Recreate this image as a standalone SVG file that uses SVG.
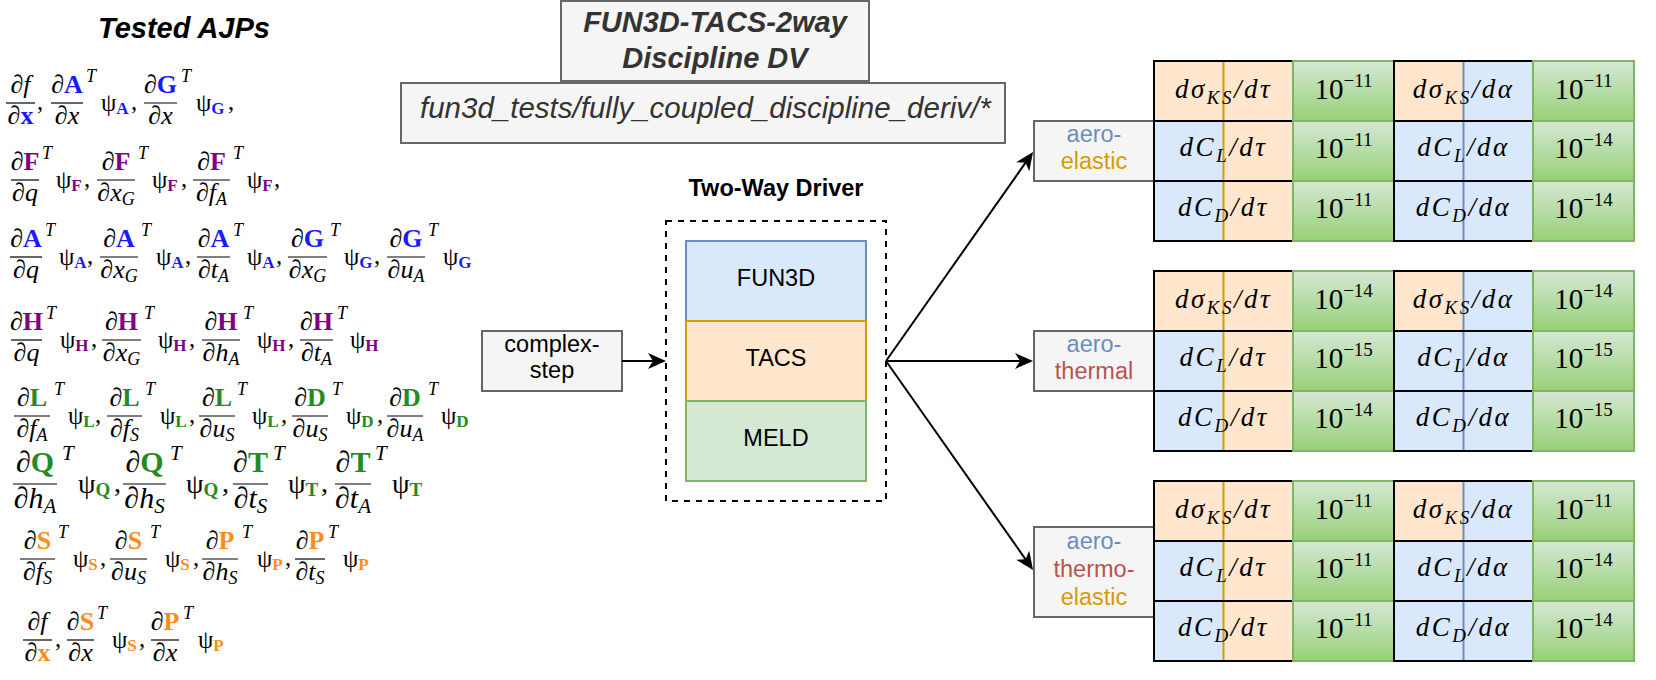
<svg xmlns="http://www.w3.org/2000/svg" xmlns:xlink="http://www.w3.org/1999/xlink" width="1656" height="680" viewBox="0 0 1656 680">
<style>
.n{font-family:"Liberation Serif","Times New Roman",serif;font-size:26px;font-style:italic;text-anchor:middle;fill:#000}
.t{font-family:"Liberation Serif","Times New Roman",serif;font-size:18px;font-style:italic;fill:#000}
.p{font-family:"Liberation Serif","Times New Roman",serif;font-size:24.5px;fill:#000}
.B{font-style:normal;font-weight:bold}
.s{font-size:17px;font-weight:bold}
.sd{font-size:18px}
.big .n{font-size:30px}
.big .p{font-size:28px}
.big .t,.big .sd{font-size:21px}
.big .s{font-size:19px}
.bar{stroke:#000;stroke-width:1.2}
.cb{fill:#1a1aff}.cp{fill:#800080}.cg{fill:#228b22}.co{fill:#ff8c1a}
.box{fill:#f5f5f5;stroke:#666666;stroke-width:2}
.sans{font-family:"Liberation Sans",Arial,sans-serif;font-size:23.5px;text-anchor:middle;fill:#000}
.ttl{font-family:"Liberation Sans",Arial,sans-serif;font-size:29px;font-weight:bold;font-style:italic;fill:#333333;text-anchor:middle}
.path{font-family:"Liberation Sans",Arial,sans-serif;font-size:29.5px;font-style:italic;fill:#333333}
.cellK{fill:none;stroke:#000;stroke-width:2}
.cellG{fill:url(#gg);stroke:#82b366;stroke-width:2}
.mx{font-family:"Liberation Serif","Times New Roman",serif;font-size:27px;font-style:italic;letter-spacing:2.5px;text-anchor:middle;fill:#000}
.ms{font-size:19px}
.mn{font-family:"Liberation Serif","Times New Roman",serif;font-size:29px;text-anchor:middle;fill:#000}
.mns{font-size:19px}
.conn{fill:none;stroke:#000;stroke-width:2}
</style>
<defs>
<linearGradient id="gg" x1="0" y1="0" x2="0" y2="1">
<stop offset="0" stop-color="#d5e8d4"/>
<stop offset="1" stop-color="#97d077"/>
</linearGradient>
<marker id="arr" viewBox="-30 -10 32 20" refX="-10" refY="0" markerWidth="32" markerHeight="20" markerUnits="userSpaceOnUse" orient="auto">
<path d="M0,0 L-18,-8 L-13,0 L-18,8 Z" fill="#000"/>
</marker>
<g id="tblBg">
<rect x="1154" y="0" width="139" height="60" fill="#ffe6cc"/>
<rect x="1154" y="60" width="69.5" height="120" fill="#dae8fc"/>
<rect x="1223.5" y="60" width="69.5" height="120" fill="#ffe6cc"/>
<line x1="1223.5" y1="0" x2="1223.5" y2="180" stroke="#d79b00" stroke-width="2"/>
<rect class="cellK" x="1154" y="0" width="139" height="60"/>
<rect class="cellK" x="1154" y="60" width="139" height="60"/>
<rect class="cellK" x="1154" y="120" width="139" height="60"/>
<rect class="cellG" x="1293" y="0" width="101" height="60"/>
<rect class="cellG" x="1293" y="60" width="101" height="60"/>
<rect class="cellG" x="1293" y="120" width="101" height="60"/>
<rect x="1394" y="0" width="69.5" height="60" fill="#ffe6cc"/>
<rect x="1463.5" y="0" width="69.5" height="60" fill="#dae8fc"/>
<rect x="1394" y="60" width="139" height="120" fill="#dae8fc"/>
<line x1="1463.5" y1="0" x2="1463.5" y2="180" stroke="#6c8ebf" stroke-width="2"/>
<rect class="cellK" x="1394" y="0" width="139" height="60"/>
<rect class="cellK" x="1394" y="60" width="139" height="60"/>
<rect class="cellK" x="1394" y="120" width="139" height="60"/>
<rect class="cellG" x="1533" y="0" width="101" height="60"/>
<rect class="cellG" x="1533" y="60" width="101" height="60"/>
<rect class="cellG" x="1533" y="120" width="101" height="60"/>
</g>
</defs>
<rect width="1656" height="680" fill="#ffffff"/>

<g id="ajp-title"><text x="184" y="38" style="font-family:'Liberation Sans',Arial,sans-serif;font-size:29px;font-weight:bold;font-style:italic;text-anchor:middle">Tested AJPs</text></g>

<g id="ajp-formulas">
<g id="ajp-row1">
<line class="bar" x1="6" y1="103" x2="35" y2="103"/>
<text class="n" x="20.5" y="93">∂f</text>
<text class="n" x="20.5" y="124">∂<tspan class="B cb">x</tspan></text>
<text class="p" x="37" y="110">,</text>
<line class="bar" x1="51" y1="103" x2="83" y2="103"/>
<text class="n" x="67" y="93">∂<tspan class="B cb">A</tspan></text>
<text class="n" x="67" y="124">∂x</text>
<text class="t" x="86" y="82">T</text>
<text class="p" x="101" y="111">ψ<tspan class="s cb" dy="3">A</tspan></text>
<text class="p" x="131" y="110">,</text>
<line class="bar" x1="144" y1="103" x2="177" y2="103"/>
<text class="n" x="160.5" y="93">∂<tspan class="B cb">G</tspan></text>
<text class="n" x="160.5" y="124">∂x</text>
<text class="t" x="181" y="82">T</text>
<text class="p" x="196" y="111">ψ<tspan class="s cb" dy="3">G</tspan></text>
<text class="p" x="228" y="110">,</text>
</g>
<g id="ajp-row2">
<line class="bar" x1="11" y1="180" x2="39" y2="180"/>
<text class="n" x="25" y="170">∂<tspan class="B cp">F</tspan></text>
<text class="n" x="25" y="201">∂q</text>
<text class="t" x="42" y="159">T</text>
<text class="p" x="56" y="188">ψ<tspan class="s cp" dy="3">F</tspan></text>
<text class="p" x="84" y="187">,</text>
<line class="bar" x1="97" y1="180" x2="135" y2="180"/>
<text class="n" x="116" y="170">∂<tspan class="B cp">F</tspan></text>
<text class="n" x="116" y="201">∂x<tspan class="sd" dy="4">G</tspan></text>
<text class="t" x="138" y="159">T</text>
<text class="p" x="152" y="188">ψ<tspan class="s cp" dy="3">F</tspan></text>
<text class="p" x="181" y="187">,</text>
<line class="bar" x1="193" y1="180" x2="230" y2="180"/>
<text class="n" x="211.5" y="170">∂<tspan class="B cp">F</tspan></text>
<text class="n" x="211.5" y="201">∂f<tspan class="sd" dy="4">A</tspan></text>
<text class="t" x="233" y="159">T</text>
<text class="p" x="247" y="188">ψ<tspan class="s cp" dy="3">F</tspan></text>
<text class="p" x="274" y="187">,</text>
</g>
<g id="ajp-row3">
<line class="bar" x1="10" y1="257" x2="42" y2="257"/>
<text class="n" x="26" y="247">∂<tspan class="B cb">A</tspan></text>
<text class="n" x="26" y="278">∂q</text>
<text class="t" x="45" y="236">T</text>
<text class="p" x="59" y="265">ψ<tspan class="s cb" dy="3">A</tspan></text>
<text class="p" x="87" y="264">,</text>
<line class="bar" x1="100" y1="257" x2="138" y2="257"/>
<text class="n" x="119" y="247">∂<tspan class="B cb">A</tspan></text>
<text class="n" x="119" y="278">∂x<tspan class="sd" dy="4">G</tspan></text>
<text class="t" x="141" y="236">T</text>
<text class="p" x="156" y="265">ψ<tspan class="s cb" dy="3">A</tspan></text>
<text class="p" x="185" y="264">,</text>
<line class="bar" x1="197" y1="257" x2="230" y2="257"/>
<text class="n" x="213.5" y="247">∂<tspan class="B cb">A</tspan></text>
<text class="n" x="213.5" y="278">∂t<tspan class="sd" dy="4">A</tspan></text>
<text class="t" x="233" y="236">T</text>
<text class="p" x="247" y="265">ψ<tspan class="s cb" dy="3">A</tspan></text>
<text class="p" x="276" y="264">,</text>
<line class="bar" x1="288" y1="257" x2="327" y2="257"/>
<text class="n" x="307.5" y="247">∂<tspan class="B cb">G</tspan></text>
<text class="n" x="307.5" y="278">∂x<tspan class="sd" dy="4">G</tspan></text>
<text class="t" x="330" y="236">T</text>
<text class="p" x="344" y="265">ψ<tspan class="s cb" dy="3">G</tspan></text>
<text class="p" x="374" y="264">,</text>
<line class="bar" x1="387" y1="257" x2="425" y2="257"/>
<text class="n" x="406" y="247">∂<tspan class="B cb">G</tspan></text>
<text class="n" x="406" y="278">∂u<tspan class="sd" dy="4">A</tspan></text>
<text class="t" x="428" y="236">T</text>
<text class="p" x="443" y="265">ψ<tspan class="s cb" dy="3">G</tspan></text>
</g>
<g id="ajp-row4">
<line class="bar" x1="11" y1="340" x2="42" y2="340"/>
<text class="n" x="26.5" y="330">∂<tspan class="B cp">H</tspan></text>
<text class="n" x="26.5" y="361">∂q</text>
<text class="t" x="46" y="319">T</text>
<text class="p" x="60" y="348">ψ<tspan class="s cp" dy="3">H</tspan></text>
<text class="p" x="91" y="347">,</text>
<line class="bar" x1="102" y1="340" x2="141" y2="340"/>
<text class="n" x="121.5" y="330">∂<tspan class="B cp">H</tspan></text>
<text class="n" x="121.5" y="361">∂x<tspan class="sd" dy="4">G</tspan></text>
<text class="t" x="144" y="319">T</text>
<text class="p" x="158" y="348">ψ<tspan class="s cp" dy="3">H</tspan></text>
<text class="p" x="189" y="347">,</text>
<line class="bar" x1="202" y1="340" x2="240" y2="340"/>
<text class="n" x="221" y="330">∂<tspan class="B cp">H</tspan></text>
<text class="n" x="221" y="361">∂h<tspan class="sd" dy="4">A</tspan></text>
<text class="t" x="243" y="319">T</text>
<text class="p" x="257" y="348">ψ<tspan class="s cp" dy="3">H</tspan></text>
<text class="p" x="288" y="347">,</text>
<line class="bar" x1="300" y1="340" x2="333" y2="340"/>
<text class="n" x="316.5" y="330">∂<tspan class="B cp">H</tspan></text>
<text class="n" x="316.5" y="361">∂t<tspan class="sd" dy="4">A</tspan></text>
<text class="t" x="337" y="319">T</text>
<text class="p" x="350" y="348">ψ<tspan class="s cp" dy="3">H</tspan></text>
</g>
<g id="ajp-row5">
<line class="bar" x1="14" y1="416" x2="50" y2="416"/>
<text class="n" x="32" y="406">∂<tspan class="B cg">L</tspan></text>
<text class="n" x="32" y="437">∂f<tspan class="sd" dy="4">A</tspan></text>
<text class="t" x="54" y="395">T</text>
<text class="p" x="68" y="424">ψ<tspan class="s cg" dy="3">L</tspan></text>
<text class="p" x="95" y="423">,</text>
<line class="bar" x1="107" y1="416" x2="142" y2="416"/>
<text class="n" x="124.5" y="406">∂<tspan class="B cg">L</tspan></text>
<text class="n" x="124.5" y="437">∂f<tspan class="sd" dy="4">S</tspan></text>
<text class="t" x="145" y="395">T</text>
<text class="p" x="160" y="424">ψ<tspan class="s cg" dy="3">L</tspan></text>
<text class="p" x="189" y="423">,</text>
<line class="bar" x1="199" y1="416" x2="235" y2="416"/>
<text class="n" x="217" y="406">∂<tspan class="B cg">L</tspan></text>
<text class="n" x="217" y="437">∂u<tspan class="sd" dy="4">S</tspan></text>
<text class="t" x="237" y="395">T</text>
<text class="p" x="252" y="424">ψ<tspan class="s cg" dy="3">L</tspan></text>
<text class="p" x="281" y="423">,</text>
<line class="bar" x1="292" y1="416" x2="328" y2="416"/>
<text class="n" x="310" y="406">∂<tspan class="B cg">D</tspan></text>
<text class="n" x="310" y="437">∂u<tspan class="sd" dy="4">S</tspan></text>
<text class="t" x="332" y="395">T</text>
<text class="p" x="346" y="424">ψ<tspan class="s cg" dy="3">D</tspan></text>
<text class="p" x="377" y="423">,</text>
<line class="bar" x1="387" y1="416" x2="423" y2="416"/>
<text class="n" x="405" y="406">∂<tspan class="B cg">D</tspan></text>
<text class="n" x="405" y="437">∂u<tspan class="sd" dy="4">A</tspan></text>
<text class="t" x="428" y="395">T</text>
<text class="p" x="441" y="424">ψ<tspan class="s cg" dy="3">D</tspan></text>
</g>
<g id="ajp-row6" class="big">
<line class="bar" x1="13" y1="484" x2="57" y2="484"/>
<text class="n" x="35" y="472">∂<tspan class="B cg">Q</tspan></text>
<text class="n" x="35" y="508">∂h<tspan class="sd" dy="5">A</tspan></text>
<text class="t" x="62" y="460">T</text>
<text class="p" x="78" y="493">ψ<tspan class="s cg" dy="3">Q</tspan></text>
<text class="p" x="114" y="492">,</text>
<line class="bar" x1="123" y1="484" x2="166" y2="484"/>
<text class="n" x="144.5" y="472">∂<tspan class="B cg">Q</tspan></text>
<text class="n" x="144.5" y="508">∂h<tspan class="sd" dy="5">S</tspan></text>
<text class="t" x="170" y="460">T</text>
<text class="p" x="186" y="493">ψ<tspan class="s cg" dy="3">Q</tspan></text>
<text class="p" x="222" y="492">,</text>
<line class="bar" x1="233" y1="484" x2="268" y2="484"/>
<text class="n" x="250.5" y="472">∂<tspan class="B cg">T</tspan></text>
<text class="n" x="250.5" y="508">∂t<tspan class="sd" dy="5">S</tspan></text>
<text class="t" x="273" y="460">T</text>
<text class="p" x="288" y="493">ψ<tspan class="s cg" dy="3">T</tspan></text>
<text class="p" x="321" y="492">,</text>
<line class="bar" x1="335" y1="484" x2="371" y2="484"/>
<text class="n" x="353" y="472">∂<tspan class="B cg">T</tspan></text>
<text class="n" x="353" y="508">∂t<tspan class="sd" dy="5">A</tspan></text>
<text class="t" x="375" y="460">T</text>
<text class="p" x="392" y="493">ψ<tspan class="s cg" dy="3">T</tspan></text>
</g>
<g id="ajp-row7">
<line class="bar" x1="20" y1="559" x2="55" y2="559"/>
<text class="n" x="37.5" y="549">∂<tspan class="B co">S</tspan></text>
<text class="n" x="37.5" y="580">∂f<tspan class="sd" dy="4">S</tspan></text>
<text class="t" x="58" y="538">T</text>
<text class="p" x="73" y="567">ψ<tspan class="s co" dy="3">S</tspan></text>
<text class="p" x="100" y="566">,</text>
<line class="bar" x1="110" y1="559" x2="147" y2="559"/>
<text class="n" x="128.5" y="549">∂<tspan class="B co">S</tspan></text>
<text class="n" x="128.5" y="580">∂u<tspan class="sd" dy="4">S</tspan></text>
<text class="t" x="150" y="538">T</text>
<text class="p" x="165" y="567">ψ<tspan class="s co" dy="3">S</tspan></text>
<text class="p" x="193" y="566">,</text>
<line class="bar" x1="202" y1="559" x2="238" y2="559"/>
<text class="n" x="220" y="549">∂<tspan class="B co">P</tspan></text>
<text class="n" x="220" y="580">∂h<tspan class="sd" dy="4">S</tspan></text>
<text class="t" x="242" y="538">T</text>
<text class="p" x="257" y="567">ψ<tspan class="s co" dy="3">P</tspan></text>
<text class="p" x="285" y="566">,</text>
<line class="bar" x1="295" y1="559" x2="325" y2="559"/>
<text class="n" x="310" y="549">∂<tspan class="B co">P</tspan></text>
<text class="n" x="310" y="580">∂t<tspan class="sd" dy="4">S</tspan></text>
<text class="t" x="328" y="538">T</text>
<text class="p" x="343" y="567">ψ<tspan class="s co" dy="3">P</tspan></text>
</g>
<g id="ajp-row8">
<line class="bar" x1="23" y1="640" x2="52" y2="640"/>
<text class="n" x="37.5" y="630">∂f</text>
<text class="n" x="37.5" y="661">∂<tspan class="B co">x</tspan></text>
<text class="p" x="55" y="647">,</text>
<line class="bar" x1="67" y1="640" x2="94" y2="640"/>
<text class="n" x="80.5" y="630">∂<tspan class="B co">S</tspan></text>
<text class="n" x="80.5" y="661">∂x</text>
<text class="t" x="97" y="619">T</text>
<text class="p" x="112" y="648">ψ<tspan class="s co" dy="3">S</tspan></text>
<text class="p" x="139" y="647">,</text>
<line class="bar" x1="151" y1="640" x2="179" y2="640"/>
<text class="n" x="165" y="630">∂<tspan class="B co">P</tspan></text>
<text class="n" x="165" y="661">∂x</text>
<text class="t" x="183" y="619">T</text>
<text class="p" x="198" y="648">ψ<tspan class="s co" dy="3">P</tspan></text>
</g>
</g>

<g id="title-box">
<rect class="box" x="561" y="1" width="308" height="80"/>
<text class="ttl" x="715" y="32">FUN3D-TACS-2way</text>
<text class="ttl" x="715" y="68">Discipline DV</text>
</g>
<g id="path-box">
<rect class="box" x="401" y="83" width="604" height="60"/>
<text class="path" x="420" y="118">fun3d_tests/fully_coupled_discipline_deriv/*</text>
</g>

<g id="complex-step">
<rect class="box" x="482" y="331" width="140" height="60"/>
<text class="sans" x="552" y="352">complex-</text>
<text class="sans" x="552" y="378">step</text>
</g>

<g id="two-way-driver">
<text x="776" y="196" style="font-family:'Liberation Sans',Arial,sans-serif;font-size:23.5px;font-weight:bold;text-anchor:middle">Two-Way Driver</text>
<rect x="666" y="221" width="220" height="280" fill="none" stroke="#000" stroke-width="2" stroke-dasharray="6 6"/>
<g id="fun3d"><rect x="686" y="241" width="180" height="80" fill="#dae8fc" stroke="#6c8ebf" stroke-width="2"/><text class="sans" x="776" y="286">FUN3D</text></g>
<g id="tacs"><rect x="686" y="321" width="180" height="80" fill="#ffe6cc" stroke="#d79b00" stroke-width="2"/><text class="sans" x="776" y="366">TACS</text></g>
<g id="meld"><rect x="686" y="401" width="180" height="80" fill="#d5e8d4" stroke="#82b366" stroke-width="2"/><text class="sans" x="776" y="446">MELD</text></g>
</g>

<g id="connectors">
<line class="conn" x1="622" y1="361" x2="656" y2="361" marker-end="url(#arr)"/>
<line class="conn" x1="886" y1="361" x2="1027.3" y2="160.2" marker-end="url(#arr)"/>
<line class="conn" x1="886" y1="361" x2="1023" y2="361" marker-end="url(#arr)"/>
<line class="conn" x1="886" y1="361" x2="1027.3" y2="561.8" marker-end="url(#arr)"/>
</g>

<g id="label-aeroelastic">
<rect class="box" x="1034" y="121" width="120" height="60"/>
<text class="sans" x="1094" y="142" style="fill:#6c8ebf">aero-</text>
<text class="sans" x="1094" y="169" style="fill:#d79b00">elastic</text>
</g>
<g id="label-aerothermal">
<rect class="box" x="1034" y="331" width="120" height="60"/>
<text class="sans" x="1094" y="352" style="fill:#6c8ebf">aero-</text>
<text class="sans" x="1094" y="379" style="fill:#b85450">thermal</text>
</g>
<g id="label-aerothermoelastic">
<rect class="box" x="1034" y="527" width="120" height="90"/>
<text class="sans" x="1094" y="549" style="fill:#6c8ebf">aero-</text>
<text class="sans" x="1094" y="577" style="fill:#b85450">thermo-</text>
<text class="sans" x="1094" y="605" style="fill:#d79b00">elastic</text>
</g>

<g id="table-aeroelastic">
<use href="#tblBg" xlink:href="#tblBg" y="61"/>
<text class="mx" x="1223.5" y="98">dσ<tspan class="ms" dy="6">KS</tspan><tspan dy="-6">/dτ</tspan></text>
<text class="mx" x="1223.5" y="156">dC<tspan class="ms" dy="6">L</tspan><tspan dy="-6">/dτ</tspan></text>
<text class="mx" x="1223.5" y="216">dC<tspan class="ms" dy="6">D</tspan><tspan dy="-6">/dτ</tspan></text>
<text class="mx" x="1463.5" y="98">dσ<tspan class="ms" dy="6">KS</tspan><tspan dy="-6">/dα</tspan></text>
<text class="mx" x="1463.5" y="156">dC<tspan class="ms" dy="6">L</tspan><tspan dy="-6">/dα</tspan></text>
<text class="mx" x="1463.5" y="216">dC<tspan class="ms" dy="6">D</tspan><tspan dy="-6">/dα</tspan></text>
<text class="mn" x="1343.5" y="99">10<tspan class="mns" dy="-12">−11</tspan></text>
<text class="mn" x="1343.5" y="158">10<tspan class="mns" dy="-12">−11</tspan></text>
<text class="mn" x="1343.5" y="218">10<tspan class="mns" dy="-12">−11</tspan></text>
<text class="mn" x="1583.5" y="99">10<tspan class="mns" dy="-12">−11</tspan></text>
<text class="mn" x="1583.5" y="158">10<tspan class="mns" dy="-12">−14</tspan></text>
<text class="mn" x="1583.5" y="218">10<tspan class="mns" dy="-12">−14</tspan></text>
</g>
<g id="table-aerothermal">
<use href="#tblBg" xlink:href="#tblBg" y="271"/>
<text class="mx" x="1223.5" y="308">dσ<tspan class="ms" dy="6">KS</tspan><tspan dy="-6">/dτ</tspan></text>
<text class="mx" x="1223.5" y="366">dC<tspan class="ms" dy="6">L</tspan><tspan dy="-6">/dτ</tspan></text>
<text class="mx" x="1223.5" y="426">dC<tspan class="ms" dy="6">D</tspan><tspan dy="-6">/dτ</tspan></text>
<text class="mx" x="1463.5" y="308">dσ<tspan class="ms" dy="6">KS</tspan><tspan dy="-6">/dα</tspan></text>
<text class="mx" x="1463.5" y="366">dC<tspan class="ms" dy="6">L</tspan><tspan dy="-6">/dα</tspan></text>
<text class="mx" x="1463.5" y="426">dC<tspan class="ms" dy="6">D</tspan><tspan dy="-6">/dα</tspan></text>
<text class="mn" x="1343.5" y="309">10<tspan class="mns" dy="-12">−14</tspan></text>
<text class="mn" x="1343.5" y="368">10<tspan class="mns" dy="-12">−15</tspan></text>
<text class="mn" x="1343.5" y="428">10<tspan class="mns" dy="-12">−14</tspan></text>
<text class="mn" x="1583.5" y="309">10<tspan class="mns" dy="-12">−14</tspan></text>
<text class="mn" x="1583.5" y="368">10<tspan class="mns" dy="-12">−15</tspan></text>
<text class="mn" x="1583.5" y="428">10<tspan class="mns" dy="-12">−15</tspan></text>
</g>
<g id="table-aerothermoelastic">
<use href="#tblBg" xlink:href="#tblBg" y="481"/>
<text class="mx" x="1223.5" y="518">dσ<tspan class="ms" dy="6">KS</tspan><tspan dy="-6">/dτ</tspan></text>
<text class="mx" x="1223.5" y="576">dC<tspan class="ms" dy="6">L</tspan><tspan dy="-6">/dτ</tspan></text>
<text class="mx" x="1223.5" y="636">dC<tspan class="ms" dy="6">D</tspan><tspan dy="-6">/dτ</tspan></text>
<text class="mx" x="1463.5" y="518">dσ<tspan class="ms" dy="6">KS</tspan><tspan dy="-6">/dα</tspan></text>
<text class="mx" x="1463.5" y="576">dC<tspan class="ms" dy="6">L</tspan><tspan dy="-6">/dα</tspan></text>
<text class="mx" x="1463.5" y="636">dC<tspan class="ms" dy="6">D</tspan><tspan dy="-6">/dα</tspan></text>
<text class="mn" x="1343.5" y="519">10<tspan class="mns" dy="-12">−11</tspan></text>
<text class="mn" x="1343.5" y="578">10<tspan class="mns" dy="-12">−11</tspan></text>
<text class="mn" x="1343.5" y="638">10<tspan class="mns" dy="-12">−11</tspan></text>
<text class="mn" x="1583.5" y="519">10<tspan class="mns" dy="-12">−11</tspan></text>
<text class="mn" x="1583.5" y="578">10<tspan class="mns" dy="-12">−14</tspan></text>
<text class="mn" x="1583.5" y="638">10<tspan class="mns" dy="-12">−14</tspan></text>
</g>
</svg>
